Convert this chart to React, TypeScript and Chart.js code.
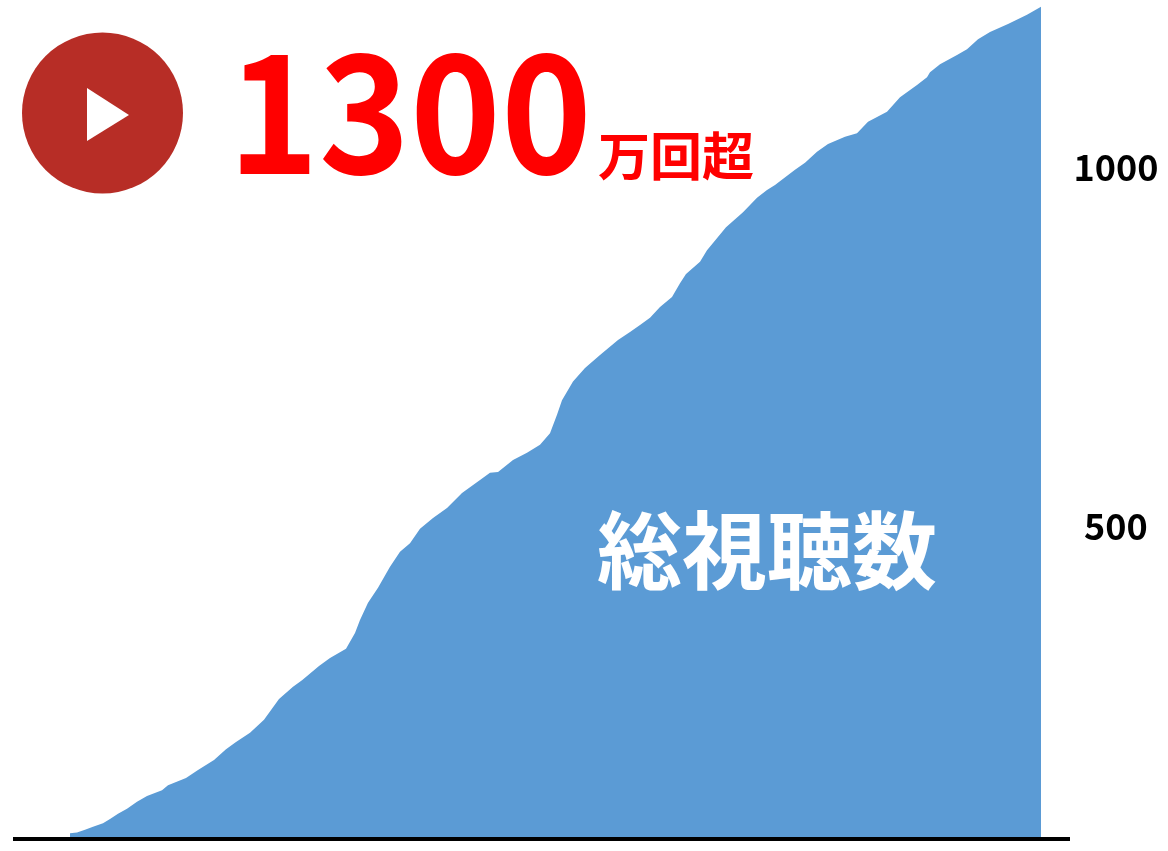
import React, { useEffect, useRef } from "react";
import { Chart, registerables } from "chart.js";

Chart.register(...registerables);

const days = [0,7,15,23,33,40,48,57,67,77,92,98,116,128,144,156,166,180,194,209,223,232,249,260,276,285,290,298,308,320,330,340,350,363,377,392,410,420,428,443,457,470,480,487,492,503,515,530,548,560,570,580,590,602,610,616,630,637,643,656,673,687,697,705,725,735,747,758,775,787,798,817,830,847,857,860,870,887,897,908,920,938,957,971];
const views = [73,74,78,82,87,93,100,107,117,125,133,140,150,161,175,190,200,213,231,260,277,286,306,317,330,352,370,394,415,444,465,477,497,512,526,547,565,575,576,593,603,614,630,656,676,702,721,739,760,771,781,791,806,820,839,852,869,885,895,917,938,958,969,976,997,1007,1022,1033,1043,1048,1064,1078,1098,1115,1126,1133,1144,1157,1165,1179,1189,1200,1213,1224];
const tickValues = [500, 1000];
const headline = "1300";
const headlineUnit = "万回超";
const seriesLabel = "総視聴数";

const FONT = '"Noto Sans CJK JP", "Noto Sans", sans-serif';

export default function App() {
  const ref = useRef<HTMLCanvasElement>(null);
  useEffect(() => {
    const chart = new Chart(ref.current!, {
      type: "line",
      data: {
        datasets: [
          {
            label: seriesLabel,
            data: days.map((d, i) => ({ x: d, y: views[i] })),
            borderWidth: 0,
            borderColor: "#5B9BD5",
            backgroundColor: "#5B9BD5",
            pointRadius: 0,
            tension: 0,
            fill: "origin",
            clip: false,
          },
        ],
      },
      options: {
        animation: false,
        responsive: false,
        devicePixelRatio: 1,
        layout: { autoPadding: false, padding: { left: 15, right: 0, top: 0, bottom: 12 } },
        plugins: { legend: { display: false }, tooltip: { enabled: false }, title: { display: false } },
        scales: {
          x: {
            type: "linear",
            min: -55,
            max: 999,
            grid: { display: false, drawTicks: false },
            border: { display: true, color: "#000000", width: 4, z: 1 },
            ticks: { display: false },
            afterFit: (s: any) => {
              s.height = 0;
              s.paddingLeft = 0;
              s.paddingRight = 0;
              s._margins = { left: 0, right: 0, top: 0, bottom: 0 };
            },
          },
          y: {
            position: "right",
            min: 65,
            max: 1233.5,
            grid: { display: false, drawTicks: false },
            border: { display: false },
            afterFit: (s: any) => {
              s.width = 99;
              s.paddingTop = 0;
              s.paddingBottom = 0;
              s._margins = { left: 0, right: 0, top: 0, bottom: 0 };
            },
            afterBuildTicks: (s: any) => { s.ticks = tickValues.map((value) => ({ value })); },
            ticks: {
              padding: 4.5,
              crossAlign: "center",
              color: "#000000",
              font: { family: FONT, size: 36, weight: "bold" },
              callback: (v: any) => String(v),
            },
          },
        },
      },
    });
    return () => chart.destroy();
  }, []);

  return (
    <div style={{ position: "absolute", left: 0, top: 0, width: 1168, height: 851, overflow: "hidden", background: "#fff", fontFamily: FONT, fontWeight: 700 }}>
      <canvas ref={ref} width={1168} height={851} style={{ display: "block", width: 1168, height: 851 }} />
      <svg width={1168} height={851} style={{ position: "absolute", left: 0, top: 0 }}>
        <circle cx={102.5} cy={113} r={80.5} fill="#B72D26" />
        <polygon points="87,88 129,115 87,141" fill="#FFFFFF" />
      </svg>
      <span style={{ position: "absolute", left: 228, top: 20, fontSize: 165, lineHeight: "165px", color: "#FF0000", whiteSpace: "nowrap", transform: "scaleX(0.935)", transformOrigin: "0 50%" }}>{headline}</span>
      <span style={{ position: "absolute", left: 598, top: 128, fontSize: 52, lineHeight: "52px", color: "#FF0000", whiteSpace: "nowrap" }}>{headlineUnit}</span>
      <span style={{ position: "absolute", left: 597, top: 503, fontSize: 85, lineHeight: "85px", color: "#FFFFFF", whiteSpace: "nowrap" }}>{seriesLabel}</span>
    </div>
  );
}
